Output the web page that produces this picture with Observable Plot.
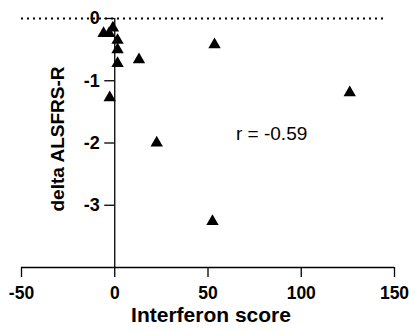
<!DOCTYPE html>
<html><head><meta charset="utf-8">
<script src="https://cdn.jsdelivr.net/npm/d3@7"></script>
<script src="https://cdn.jsdelivr.net/npm/@observablehq/plot@0.6"></script>
<style>body{margin:0;background:#fff;} svg{display:block;}</style>
</head><body><div id="chart"></div>
<script>
const interferonScore = [-1, -6, -3, 1.5, 1.5, 1.5, -2.7, 13, 22.5, 53.5, 52.4, 126];
const deltaALSFRS = [-0.15, -0.24, -0.24, -0.35, -0.5, -0.72, -1.27, -0.66, -2.0, -0.42, -3.26, -1.19];
const xTicks = [-50, 0, 50, 100, 150];
const yTicks = [0, -1, -2, -3];
const annotation = "r = -0.59";

const data = interferonScore.map((x, i) => ({x, y: deltaALSFRS[i]}));
const font = "Arial, 'Liberation Sans', sans-serif";

const chart = Plot.plot({
  width: 409, height: 331,
  marginLeft: 21, marginRight: 15, marginTop: 18, marginBottom: 64,
  x: {domain: [-50, 150], axis: null},
  y: {domain: [-4, 0], axis: null},
  style: {fontFamily: font, fontWeight: "bold", color: "#000", background: "#fff"},
  marks: [
    Plot.ruleY([0], {x1: -50, x2: 146, stroke: "#000", strokeWidth: 2, strokeDasharray: "2 4"}),
    Plot.ruleY([-4], {x1: -50, x2: 150, stroke: "#000", strokeWidth: 1.3}),
    Plot.ruleX(xTicks, {x: d => d, y1: -4, y2: -4, insetBottom: -10, stroke: "#000", strokeWidth: 1.3}),
    Plot.text(xTicks, {x: d => d, y: -4, dy: 26, text: d => String(d), fontSize: 17.5, fontWeight: "bold", fill: "#000"}),
    Plot.ruleX([0], {y1: -4, y2: 0, stroke: "#000", strokeWidth: 1.3}),
    Plot.ruleY(yTicks, {y: d => d, x1: 0, x2: 0, insetLeft: -10, stroke: "#000", strokeWidth: 1.3}),
    Plot.text(yTicks, {x: 0, y: d => d, dx: -15, textAnchor: "end", text: d => String(d), fontSize: 18, fontWeight: "bold", fill: "#000"}),
    Plot.dot(data, {x: "x", y: "y", symbol: "triangle", r: 4.6, fill: "#000", stroke: "none"}),
    Plot.text([annotation], {x: 65, y: -1.85, text: d => d, textAnchor: "start", fontSize: 19, fontWeight: "normal", fill: "#000"}),
    Plot.text(["Interferon score"], {frameAnchor: "bottom", dx: 3, dy: 54, text: d => d, fontSize: 21, fontWeight: "bold", fill: "#000"}),
    Plot.text(["delta ALSFRS-R"], {x: 0, y: -2, dx: -57, dy: -4, rotate: -90, text: d => d, fontSize: 19, fontWeight: "bold", fill: "#000"})
  ]
});
document.getElementById("chart").appendChild(chart);
</script>
</body></html>
